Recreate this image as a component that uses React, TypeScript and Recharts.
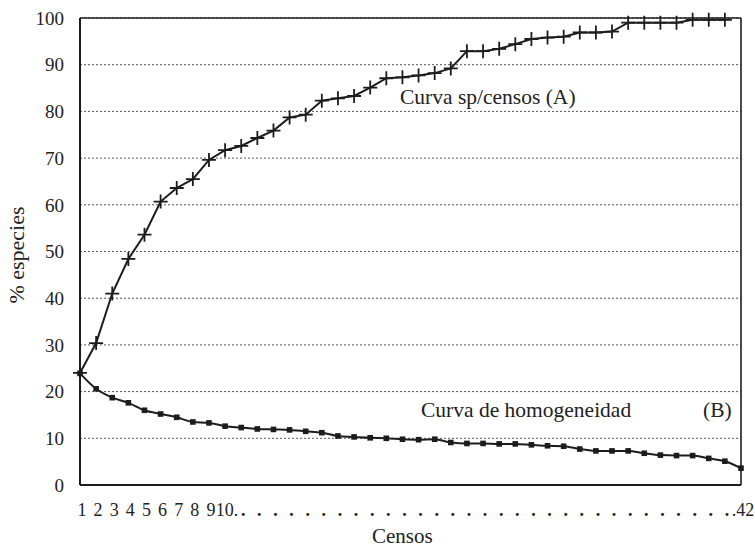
import { LineChart, Line, XAxis, YAxis, CartesianGrid, ReferenceLine } from 'recharts';

// censos 1..42
const censos = Array.from({ length: 42 }, (_, i) => i + 1);

// curva sp/censos (A), % especies acumuladas
const curvaA = [
  24, 30.4, 41, 48.4, 53.6, 60.7, 63.6, 65.5, 69.6, 71.7,
  72.6, 74.3, 75.9, 78.7, 79.3, 82.3, 82.8, 83.3, 85.1, 87.1,
  87.3, 87.7, 88.2, 89.2, 92.9, 92.9, 93.4, 94.4, 95.5, 95.8,
  96.0, 96.9, 96.9, 97.1, 99.0, 99.0, 99.0, 99.0, 99.6, 99.6,
  99.6, null,
];

// curva de homogeneidad (B)
const curvaB = [
  23.9, 20.6, 18.7, 17.6, 16.0, 15.2, 14.5, 13.5, 13.3, 12.6,
  12.3, 12.0, 11.9, 11.8, 11.5, 11.2, 10.5, 10.3, 10.1, 10.0,
  9.8, 9.7, 9.8, 9.1, 8.9, 8.9, 8.8, 8.8, 8.6, 8.4,
  8.3, 7.7, 7.3, 7.3, 7.3, 6.8, 6.4, 6.3, 6.3, 5.7,
  5.1, 3.6,
];

const yTicks = [0, 10, 20, 30, 40, 50, 60, 70, 80, 90, 100];

const xTickLabels = censos.map((c) =>
  c < 10 ? String(c) : c === 10 ? '10.' : c === 42 ? '.42' : '.'
);

// censos that carry a small inner tick on the x axis
const innerTicks = censos.slice(1, 41);

const data = censos.map((c, i) => ({ censo: c, a: curvaA[i], b: curvaB[i] }));

const FONT = '"Liberation Serif", "DejaVu Serif", serif';
const INK = '#1c1c1c';

const Cross = (props: any) => {
  const { cx, cy } = props;
  if (cx == null || cy == null || Number.isNaN(cy)) return null;
  return <path d={`M${cx - 7},${cy}h14M${cx},${cy - 7}v14`} stroke={INK} strokeWidth={1.8} fill="none" />;
};

const Square = (props: any) => {
  const { cx, cy } = props;
  if (cx == null || cy == null || Number.isNaN(cy)) return null;
  return <rect x={cx - 2.8} y={cy - 2.8} width={5.6} height={5.6} fill={INK} />;
};

const CensoTick = (props: any) => {
  const { x, y, payload } = props;
  const label = xTickLabels[payload.value - 1];
  return (
    <text
      x={x + 2}
      y={y + 11}
      textAnchor="middle"
      fontFamily={FONT}
      fontSize={18}
      fontWeight={label === '.' ? 700 : 400}
      fill="#222"
    >
      {label}
    </text>
  );
};

const NoLabel = () => <g />;

export default function App() {
  return (
    <div style={{ position: 'absolute', left: 0, top: 0, background: '#fff' }}>
      <LineChart width={755} height={549} data={data} margin={{ top: 18, right: 14, bottom: 0, left: 0 }}>
        <CartesianGrid vertical={false} stroke="#555" strokeDasharray="2 2" />
        <ReferenceLine y={100} stroke={INK} strokeWidth={1.6} />
        <ReferenceLine x={42} stroke={INK} strokeWidth={1.6} />
        <XAxis
          dataKey="censo"
          type="number"
          domain={[1, 42]}
          ticks={censos}
          interval={0}
          height={64}
          tickSize={0}
          tickMargin={20}
          tick={<CensoTick />}
          axisLine={{ stroke: INK, strokeWidth: 2 }}
        />
        <XAxis
          xAxisId="inner"
          dataKey="censo"
          type="number"
          domain={[1, 42]}
          ticks={innerTicks}
          interval={0}
          orientation="bottom"
          mirror
          height={0}
          tickSize={9}
          tick={<NoLabel />}
          tickLine={{ stroke: INK, strokeWidth: 1.7 }}
          axisLine={false}
        />
        <YAxis
          domain={[0, 100]}
          ticks={yTicks}
          width={80}
          tickLine={false}
          tickMargin={10}
          axisLine={{ stroke: INK, strokeWidth: 2 }}
          tick={{ fontFamily: FONT, fontSize: 19, fill: '#222' }}
        />
        <Line
          dataKey="a"
          type="linear"
          stroke={INK}
          strokeWidth={2}
          dot={<Cross />}
          activeDot={false}
          connectNulls={false}
          isAnimationActive={false}
        />
        <Line
          dataKey="b"
          type="monotone"
          stroke={INK}
          strokeWidth={2}
          dot={<Square />}
          activeDot={false}
          isAnimationActive={false}
        />
        <text x={400} y={104} fontFamily={FONT} fontSize={21.5} fill="#222">Curva sp/censos (A)</text>
        <text x={421} y={417} fontFamily={FONT} fontSize={21.5} fill="#222">Curva de homogeneidad</text>
        <text x={703} y={417} fontFamily={FONT} fontSize={21.5} fill="#222">(B)</text>
        <text x={372} y={543} fontFamily={FONT} fontSize={21} fill="#222">Censos</text>
        <text
          x={24}
          y={255}
          transform="rotate(-90 24 255)"
          textAnchor="middle"
          fontFamily={FONT}
          fontSize={22}
          fill="#222"
        >
          % especies
        </text>
      </LineChart>
    </div>
  );
}
